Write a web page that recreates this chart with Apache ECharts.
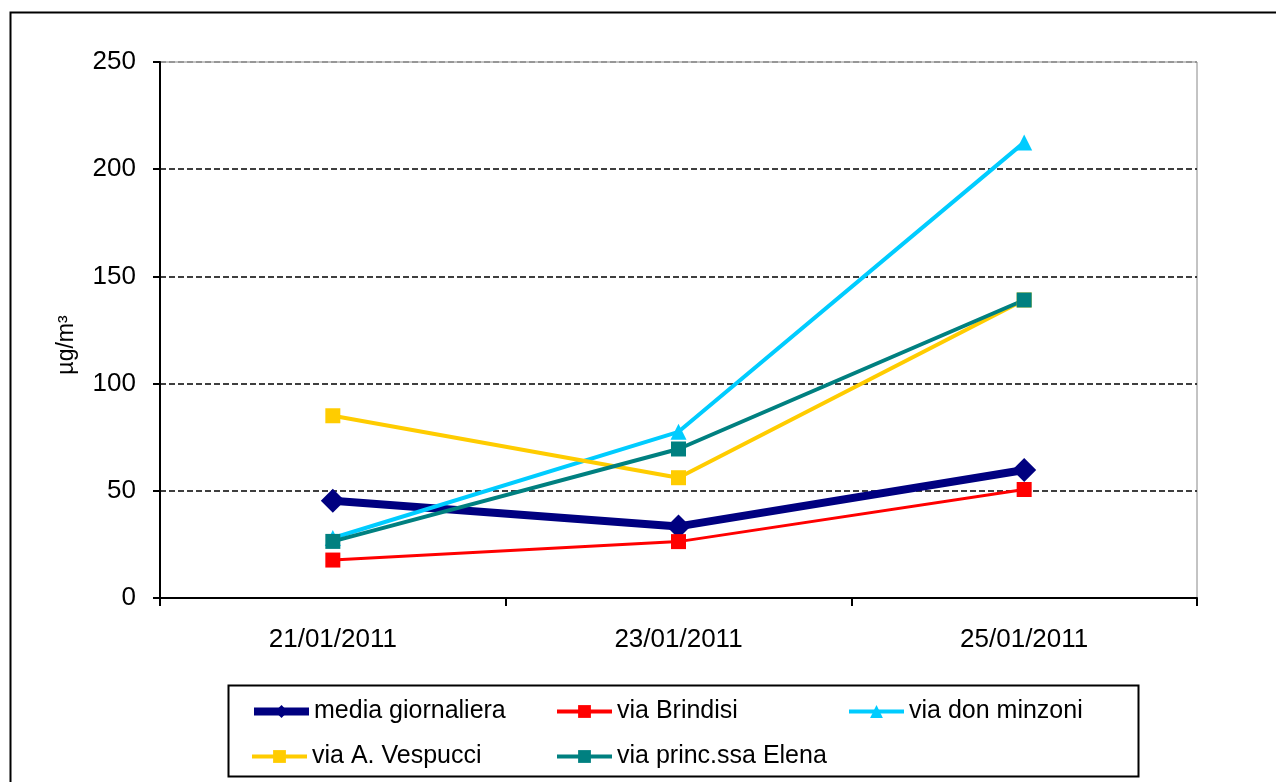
<!DOCTYPE html>
<html>
<head>
<meta charset="utf-8">
<script src="https://cdn.jsdelivr.net/npm/echarts@6/dist/echarts.min.js"></script>
<style>
html,body{margin:0;padding:0;background:#fff;}
#chart{width:1276px;height:782px;}
</style>
</head>
<body>
<div id="chart"></div>
<script>
const categories = ['21/01/2011', '23/01/2011', '25/01/2011'];
const yTicks = [0, 50, 100, 150, 200, 250];
const seriesNames = ['media giornaliera', 'via Brindisi', 'via don minzoni', 'via A. Vespucci', 'via princ.ssa Elena'];
const mediaGiornaliera = [45.4, 33.4, 59.7];
const viaBrindisi = [17.7, 26.3, 50.6];
const viaDonMinzoni = [28.0, 77.5, 212.5];
const viaVespucci = [85.0, 56.1, 139.0];
const viaPrincssaElena = [26.4, 69.5, 139.0];

const chart = echarts.init(document.getElementById('chart'), null, {renderer: 'canvas'});
const font = 'Liberation Sans, Arial, sans-serif';

function lineSeries(name, data, color, width, symbol, size) {
  return {
    name: name, type: 'line', data: data,
    symbol: symbol, symbolSize: size, showSymbol: true,
    lineStyle: {color: color, width: width},
    itemStyle: {color: color, borderWidth: 0},
    emphasis: {disabled: true},
    animation: false
  };
}

function legendAt(name, lw, left, top) {
  return {
    data: [{name: name, lineStyle: {width: lw}}], left: left, top: top, orient: 'horizontal',
    itemWidth: 55, itemHeight: 16, itemGap: 0,
    textStyle: {fontFamily: font, fontSize: 25, color: '#000'},
    selectedMode: false
  };
}

chart.setOption({
  backgroundColor: '#fff',
  animation: false,
  grid: {left: 160, right: 79, top: 62, bottom: 184, show: true, borderColor: '#888', borderWidth: 1, backgroundColor: 'transparent'},
  xAxis: {
    type: 'category', data: categories, boundaryGap: true,
    axisLine: {lineStyle: {color: '#000', width: 2}},
    axisTick: {show: true, inside: false, length: 8, lineStyle: {color: '#000', width: 2}},
    axisLabel: {fontFamily: font, fontSize: 26, color: '#000', margin: 29},
    splitLine: {show: false}
  },
  yAxis: {
    type: 'value', min: 0, max: 250, interval: 50,
    name: 'µg/m³', nameLocation: 'middle', nameGap: 82,
    nameTextStyle: {fontFamily: font, fontSize: 23, color: '#000', padding: [0, 30, 0, 0]},
    axisLine: {show: true, lineStyle: {color: '#000', width: 2}},
    axisTick: {show: true, inside: false, length: 7, lineStyle: {color: '#000', width: 2}},
    axisLabel: {fontFamily: font, fontSize: 26, color: '#000', margin: 24,
      formatter: function (v) { return yTicks.indexOf(v) >= 0 ? String(v) : ''; }},
    splitLine: {show: true, lineStyle: {color: ['#000', '#000', '#000', '#000', '#000', '#888'], type: [6, 3], width: 1.5}}
  },
  legend: [
    legendAt(seriesNames[0], 8, 245, 694),
    legendAt(seriesNames[1], 4, 550, 694),
    legendAt(seriesNames[2], 4, 842, 694),
    legendAt(seriesNames[3], 4, 245, 739),
    legendAt(seriesNames[4], 4, 550, 739)
  ],
  graphic: [
    {type: 'rect', left: 8, top: 10, shape: {x: 0, y: 0, width: 1300, height: 800}, style: {fill: 'none', stroke: '#000', lineWidth: 2}, silent: true, z: -1},
    {type: 'rect', left: 226, top: 683, shape: {x: 0, y: 0, width: 910, height: 91}, style: {fill: 'none', stroke: '#000', lineWidth: 2}, silent: true}
  ],
  series: [
    lineSeries(seriesNames[0], mediaGiornaliera, '#000080', 8, 'diamond', 24),
    lineSeries(seriesNames[1], viaBrindisi, '#FF0000', 3, 'rect', 15),
    lineSeries(seriesNames[2], viaDonMinzoni, '#00CCFF', 4, 'triangle', 16),
    lineSeries(seriesNames[3], viaVespucci, '#FFCC00', 4, 'rect', 15),
    lineSeries(seriesNames[4], viaPrincssaElena, '#008080', 4, 'rect', 15)
  ]
});
</script>
</body>
</html>
